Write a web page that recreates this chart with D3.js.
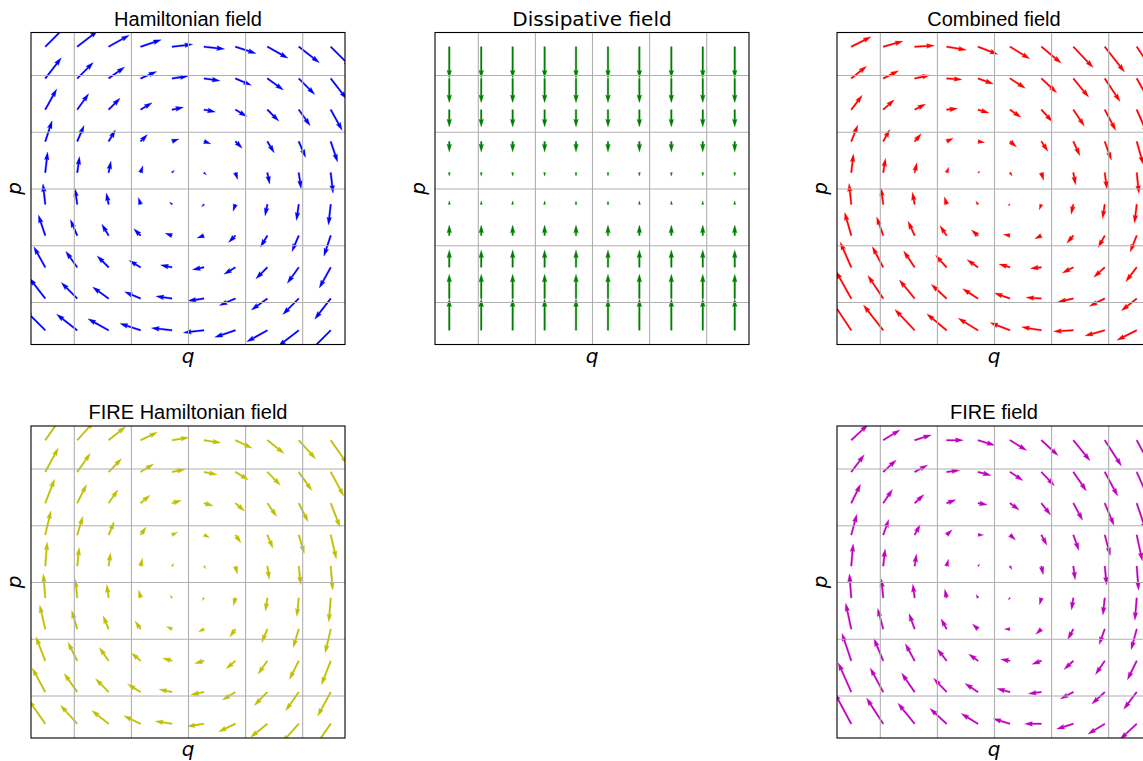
<!DOCTYPE html>
<html>
<head>
<meta charset="utf-8">
<script src="https://cdn.jsdelivr.net/npm/d3@7"></script>
<style>
  body { margin: 0; background: #fff; }
  svg { display: block; }
</style>
</head>
<body>
<svg id="chart" width="1143" height="761"></svg>
<script>
// grid of the quiver (q along x, p along y, top row first)
const qVals = [-2.5, -1.94, -1.39, -0.83, -0.28, 0.28, 0.83, 1.39, 1.94, 2.5];
const pVals = [2.5, 1.94, 1.39, 0.83, 0.28, -0.28, -0.83, -1.39, -1.94, -2.5];
const tickVals = [-2, -1, 0, 1, 2];

// Hamiltonian field
const hamU = [
  [2.5, 2.5, 2.5, 2.5, 2.5, 2.5, 2.5, 2.5, 2.5, 2.5],
  [1.94, 1.94, 1.94, 1.94, 1.94, 1.94, 1.94, 1.94, 1.94, 1.94],
  [1.39, 1.39, 1.39, 1.39, 1.39, 1.39, 1.39, 1.39, 1.39, 1.39],
  [0.83, 0.83, 0.83, 0.83, 0.83, 0.83, 0.83, 0.83, 0.83, 0.83],
  [0.28, 0.28, 0.28, 0.28, 0.28, 0.28, 0.28, 0.28, 0.28, 0.28],
  [-0.28, -0.28, -0.28, -0.28, -0.28, -0.28, -0.28, -0.28, -0.28, -0.28],
  [-0.83, -0.83, -0.83, -0.83, -0.83, -0.83, -0.83, -0.83, -0.83, -0.83],
  [-1.39, -1.39, -1.39, -1.39, -1.39, -1.39, -1.39, -1.39, -1.39, -1.39],
  [-1.94, -1.94, -1.94, -1.94, -1.94, -1.94, -1.94, -1.94, -1.94, -1.94],
  [-2.5, -2.5, -2.5, -2.5, -2.5, -2.5, -2.5, -2.5, -2.5, -2.5]
];
const hamV = [
  [2.5, 1.94, 1.39, 0.83, 0.28, -0.28, -0.83, -1.39, -1.94, -2.5],
  [2.5, 1.94, 1.39, 0.83, 0.28, -0.28, -0.83, -1.39, -1.94, -2.5],
  [2.5, 1.94, 1.39, 0.83, 0.28, -0.28, -0.83, -1.39, -1.94, -2.5],
  [2.5, 1.94, 1.39, 0.83, 0.28, -0.28, -0.83, -1.39, -1.94, -2.5],
  [2.5, 1.94, 1.39, 0.83, 0.28, -0.28, -0.83, -1.39, -1.94, -2.5],
  [2.5, 1.94, 1.39, 0.83, 0.28, -0.28, -0.83, -1.39, -1.94, -2.5],
  [2.5, 1.94, 1.39, 0.83, 0.28, -0.28, -0.83, -1.39, -1.94, -2.5],
  [2.5, 1.94, 1.39, 0.83, 0.28, -0.28, -0.83, -1.39, -1.94, -2.5],
  [2.5, 1.94, 1.39, 0.83, 0.28, -0.28, -0.83, -1.39, -1.94, -2.5],
  [2.5, 1.94, 1.39, 0.83, 0.28, -0.28, -0.83, -1.39, -1.94, -2.5]
];

// Dissipative field
const disU = [
  [0, 0, 0, 0, 0, 0, 0, 0, 0, 0],
  [0, 0, 0, 0, 0, 0, 0, 0, 0, 0],
  [0, 0, 0, 0, 0, 0, 0, 0, 0, 0],
  [0, 0, 0, 0, 0, 0, 0, 0, 0, 0],
  [0, 0, 0, 0, 0, 0, 0, 0, 0, 0],
  [0, 0, 0, 0, 0, 0, 0, 0, 0, 0],
  [0, 0, 0, 0, 0, 0, 0, 0, 0, 0],
  [0, 0, 0, 0, 0, 0, 0, 0, 0, 0],
  [0, 0, 0, 0, 0, 0, 0, 0, 0, 0],
  [0, 0, 0, 0, 0, 0, 0, 0, 0, 0]
];
const disV = [
  [-1.25, -1.25, -1.25, -1.25, -1.25, -1.25, -1.25, -1.25, -1.25, -1.25],
  [-0.97, -0.97, -0.97, -0.97, -0.97, -0.97, -0.97, -0.97, -0.97, -0.97],
  [-0.69, -0.69, -0.69, -0.69, -0.69, -0.69, -0.69, -0.69, -0.69, -0.69],
  [-0.42, -0.42, -0.42, -0.42, -0.42, -0.42, -0.42, -0.42, -0.42, -0.42],
  [-0.14, -0.14, -0.14, -0.14, -0.14, -0.14, -0.14, -0.14, -0.14, -0.14],
  [0.14, 0.14, 0.14, 0.14, 0.14, 0.14, 0.14, 0.14, 0.14, 0.14],
  [0.42, 0.42, 0.42, 0.42, 0.42, 0.42, 0.42, 0.42, 0.42, 0.42],
  [0.69, 0.69, 0.69, 0.69, 0.69, 0.69, 0.69, 0.69, 0.69, 0.69],
  [0.97, 0.97, 0.97, 0.97, 0.97, 0.97, 0.97, 0.97, 0.97, 0.97],
  [1.25, 1.25, 1.25, 1.25, 1.25, 1.25, 1.25, 1.25, 1.25, 1.25]
];

// Combined field
const comU = hamU;
const comV = [
  [1.25, 0.69, 0.14, -0.42, -0.97, -1.53, -2.08, -2.64, -3.19, -3.75],
  [1.53, 0.97, 0.42, -0.14, -0.69, -1.25, -1.80, -2.36, -2.91, -3.47],
  [1.81, 1.25, 0.70, 0.14, -0.41, -0.97, -1.52, -2.08, -2.63, -3.19],
  [2.08, 1.52, 0.97, 0.41, -0.14, -0.70, -1.25, -1.81, -2.36, -2.92],
  [2.36, 1.80, 1.25, 0.69, 0.14, -0.42, -0.97, -1.53, -2.08, -2.64],
  [2.64, 2.08, 1.53, 0.97, 0.42, -0.14, -0.69, -1.25, -1.80, -2.36],
  [2.92, 2.36, 1.81, 1.25, 0.70, 0.14, -0.41, -0.97, -1.52, -2.08],
  [3.19, 2.63, 2.08, 1.52, 0.97, 0.41, -0.14, -0.70, -1.25, -1.81],
  [3.47, 2.91, 2.36, 1.80, 1.25, 0.69, 0.14, -0.42, -0.97, -1.53],
  [3.75, 3.19, 2.64, 2.08, 1.53, 0.97, 0.42, -0.14, -0.69, -1.25]
];

// FIRE Hamiltonian field
const fhU = [
  [1.75, 1.75, 1.75, 1.75, 1.75, 1.75, 1.75, 1.75, 1.75, 1.75],
  [1.36, 1.36, 1.36, 1.36, 1.36, 1.36, 1.36, 1.36, 1.36, 1.36],
  [0.97, 0.97, 0.97, 0.97, 0.97, 0.97, 0.97, 0.97, 0.97, 0.97],
  [0.58, 0.58, 0.58, 0.58, 0.58, 0.58, 0.58, 0.58, 0.58, 0.58],
  [0.2, 0.2, 0.2, 0.2, 0.2, 0.2, 0.2, 0.2, 0.2, 0.2],
  [-0.2, -0.2, -0.2, -0.2, -0.2, -0.2, -0.2, -0.2, -0.2, -0.2],
  [-0.58, -0.58, -0.58, -0.58, -0.58, -0.58, -0.58, -0.58, -0.58, -0.58],
  [-0.97, -0.97, -0.97, -0.97, -0.97, -0.97, -0.97, -0.97, -0.97, -0.97],
  [-1.36, -1.36, -1.36, -1.36, -1.36, -1.36, -1.36, -1.36, -1.36, -1.36],
  [-1.75, -1.75, -1.75, -1.75, -1.75, -1.75, -1.75, -1.75, -1.75, -1.75]
];
const fhV = hamV;

// FIRE field
const fireU = [
  [1.8, 1.8, 1.8, 1.8, 1.8, 1.8, 1.8, 1.8, 1.8, 1.8],
  [1.4, 1.4, 1.4, 1.4, 1.4, 1.4, 1.4, 1.4, 1.4, 1.4],
  [1.0, 1.0, 1.0, 1.0, 1.0, 1.0, 1.0, 1.0, 1.0, 1.0],
  [0.6, 0.6, 0.6, 0.6, 0.6, 0.6, 0.6, 0.6, 0.6, 0.6],
  [0.2, 0.2, 0.2, 0.2, 0.2, 0.2, 0.2, 0.2, 0.2, 0.2],
  [-0.2, -0.2, -0.2, -0.2, -0.2, -0.2, -0.2, -0.2, -0.2, -0.2],
  [-0.6, -0.6, -0.6, -0.6, -0.6, -0.6, -0.6, -0.6, -0.6, -0.6],
  [-1.0, -1.0, -1.0, -1.0, -1.0, -1.0, -1.0, -1.0, -1.0, -1.0],
  [-1.4, -1.4, -1.4, -1.4, -1.4, -1.4, -1.4, -1.4, -1.4, -1.4],
  [-1.8, -1.8, -1.8, -1.8, -1.8, -1.8, -1.8, -1.8, -1.8, -1.8]
];
const fireV = [
  [1.67, 1.11, 0.56, 0.0, -0.55, -1.11, -1.66, -2.22, -2.77, -3.33],
  [1.85, 1.29, 0.74, 0.18, -0.37, -0.93, -1.48, -2.04, -2.59, -3.15],
  [2.04, 1.48, 0.93, 0.37, -0.18, -0.74, -1.29, -1.85, -2.40, -2.96],
  [2.22, 1.66, 1.11, 0.55, 0.0, -0.56, -1.11, -1.67, -2.22, -2.78],
  [2.41, 1.85, 1.30, 0.74, 0.19, -0.37, -0.92, -1.48, -2.03, -2.59],
  [2.59, 2.03, 1.48, 0.92, 0.37, -0.19, -0.74, -1.30, -1.85, -2.41],
  [2.78, 2.22, 1.67, 1.11, 0.56, 0.0, -0.55, -1.11, -1.66, -2.22],
  [2.96, 2.40, 1.85, 1.29, 0.74, 0.18, -0.37, -0.93, -1.48, -2.04],
  [3.15, 2.59, 2.04, 1.48, 0.93, 0.37, -0.18, -0.74, -1.29, -1.85],
  [3.33, 2.77, 2.22, 1.66, 1.11, 0.55, 0.0, -0.56, -1.11, -1.67]
];

const panels = [
  {title: "Hamiltonian field", U: hamU, V: hamV, color: "#0000ff", col: 0, row: 0, font: "Liberation Sans"},
  {title: "Dissipative field", U: disU, V: disV, color: "#008000", col: 1, row: 0, font: "DejaVu Sans"},
  {title: "Combined field", U: comU, V: comV, color: "#ff0000", col: 2, row: 0, font: "Liberation Sans"},
  {title: "FIRE Hamiltonian field", U: fhU, V: fhV, color: "#bfbf00", col: 0, row: 1, font: "Liberation Sans"},
  {title: "FIRE field", U: fireU, V: fireV, color: "#bf00bf", col: 2, row: 1, font: "Liberation Sans"}
];

const colX = [31, 435, 837],
    rowY = [32.5, 426],
    pw = 314,
    ph = 312;

const svg = d3.select("#chart");
svg.append("rect").attr("width", 1143).attr("height", 761).attr("fill", "#fff");

// matplotlib-like arrow outline, in shaft widths
function arrowShape(len) {
  const hw = 3, hl = 5, hal = 4.5, minsh = 5;
  if (len < 1) {
    return d3.range(8).map(k => [Math.cos(k * Math.PI / 3) * 0.5, Math.sin(k * Math.PI / 3) * 0.5]);
  }
  var x, y;
  if (len >= minsh) {
    x = [0, len - hal, len - hl, len];
    y = [0.5, 0.5, 0.5 * hw, 0];
  } else {
    var s = len / minsh;
    x = [0, minsh - hal, minsh - hl, minsh].map(v => v * s);
    y = [0.5, 0.5, 0.5 * hw, 0].map(v => v * s);
  }
  const ii = [0, 1, 2, 3, 2, 1, 0, 0];
  return ii.map((k, n) => [x[k], (n >= 3 && n < 7) ? -y[k] : y[k]]);
}

panels.forEach(function(pn, idx) {
  const x0 = colX[pn.col], y0 = rowY[pn.row];
  const x = d3.scaleLinear().domain([-2.75, 2.75]).range([x0, x0 + pw]);
  const y = d3.scaleLinear().domain([-2.75, 2.75]).range([y0 + ph, y0]);

  const g = svg.append("g");
  g.append("clipPath").attr("id", "clip" + idx)
    .append("rect").attr("x", x0).attr("y", y0).attr("width", pw).attr("height", ph);

  // flatten the grid
  const arrows = [];
  pVals.forEach(function(p, j) {
    qVals.forEach(function(q, i) {
      arrows.push({q: q, p: p, u: pn.U[j][i], v: pn.V[j][i]});
    });
  });

  // autoscale like matplotlib quiver
  const amean = d3.mean(arrows, d => Math.hypot(d.u, d.v));
  const scale = 1.8 * amean * Math.max(10, Math.sqrt(arrows.length));
  const shaft = 0.005 * pw;

  g.append("g").attr("clip-path", "url(#clip" + idx + ")")
    .selectAll("path")
    .data(arrows)
    .enter()
    .append("path")
    .attr("fill", pn.color)
    .attr("stroke", pn.color)
    .attr("stroke-width", 0.3)
    .attr("d", function(d) {
      const mag = Math.hypot(d.u, d.v);
      const len = mag / scale / 0.005;
      const a = Math.atan2(d.v, d.u);
      const ca = Math.cos(a), sa = Math.sin(a);
      const tx = x(d.q), ty = y(d.p);
      const pts = arrowShape(len).map(function(pt) {
        return [tx + shaft * (pt[0] * ca - pt[1] * sa), ty - shaft * (pt[0] * sa + pt[1] * ca)];
      });
      return "M" + pts.map(pt => pt[0].toFixed(2) + "," + pt[1].toFixed(2)).join("L") + "Z";
    });

  // grid lines on top of the arrows
  const gx = g.append("g").attr("transform", "translate(0," + (y0 + ph) + ")")
    .call(d3.axisBottom(x).tickValues(tickVals).tickSize(-ph).tickFormat(""));
  const gy = g.append("g").attr("transform", "translate(" + x0 + ",0)")
    .call(d3.axisLeft(y).tickValues(tickVals).tickSize(-pw).tickFormat(""));
  [gx, gy].forEach(function(ax) {
    ax.select(".domain").remove();
    ax.selectAll("line").attr("stroke", "#b0b0b0").attr("stroke-width", 1.1);
  });

  g.append("rect")
    .attr("x", x0).attr("y", y0).attr("width", pw).attr("height", ph)
    .attr("fill", "none").attr("stroke", "#000").attr("stroke-width", 1.1);

  g.append("text")
    .attr("x", x0 + pw / 2).attr("y", y0 - 7)
    .attr("text-anchor", "middle")
    .style("font-family", pn.font).style("font-size", "20px")
    .text(pn.title);

  g.append("text")
    .attr("x", x0 + pw / 2).attr("y", y0 + ph + 18)
    .attr("text-anchor", "middle")
    .style("font-family", "DejaVu Sans").style("font-style", "italic").style("font-size", "20px")
    .text("q");

  g.append("text")
    .attr("transform", "translate(" + (x0 - 10) + "," + (y0 + ph / 2) + ") rotate(-90)")
    .attr("text-anchor", "middle")
    .style("font-family", "DejaVu Sans").style("font-style", "italic").style("font-size", "20px")
    .text("p");
});
</script>
</body>
</html>
